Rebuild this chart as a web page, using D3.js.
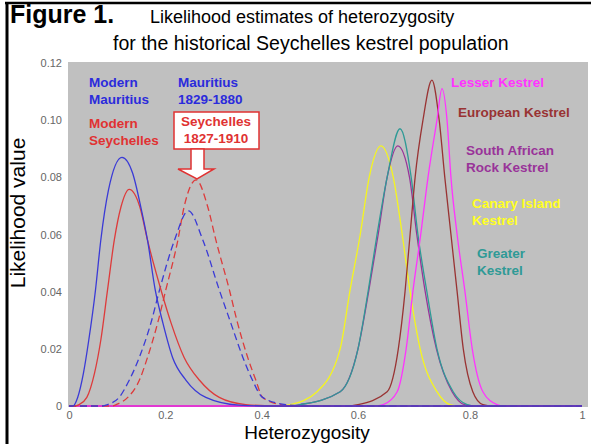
<!DOCTYPE html>
<html>
<head>
<meta charset="utf-8">
<script src="https://cdn.jsdelivr.net/npm/d3@7"></script>
<style>
  body { margin: 0; background: #fff; }
  svg { display: block; font-family: "Liberation Sans", Arial, sans-serif; }
</style>
</head>
<body>
<svg id="chart" width="591" height="444"></svg>
<script>
// tick values
var xTicks = [0, 0.2, 0.4, 0.6, 0.8, 1];
var yTicks = [0, 0.02, 0.04, 0.06, 0.08, 0.1, 0.12];

// curves: [heterozygosity, likelihood]
var modernMauritius = [[0,0],[0.008,0],[0.018,0.003],[0.03,0.0115],[0.041,0.023],[0.055,0.0406],[0.066,0.058],[0.082,0.0756],[0.11,0.087],[0.132,0.0815],[0.149,0.0697],[0.163,0.058],[0.179,0.0406],[0.195,0.029],[0.215,0.017],[0.243,0.009],[0.284,0.003],[0.353,0.0003],[0.42,0],[1,0]];
var modernSeychelles = [[0,0],[0.01,0],[0.021,0.0005],[0.037,0.003],[0.053,0.0115],[0.066,0.023],[0.08,0.0406],[0.094,0.058],[0.108,0.0697],[0.125,0.0758],[0.147,0.0697],[0.163,0.058],[0.191,0.0406],[0.212,0.029],[0.239,0.017],[0.271,0.009],[0.312,0.003],[0.367,0.0005],[0.43,0],[1,0]];
var mauritius1829 = [[0,0],[0.07,0],[0.08,0.0005],[0.104,0.003],[0.125,0.009],[0.146,0.017],[0.17,0.029],[0.188,0.0406],[0.219,0.058],[0.248,0.0683],[0.278,0.058],[0.312,0.0406],[0.336,0.029],[0.361,0.017],[0.381,0.009],[0.402,0.003],[0.45,0.0005],[0.5,0],[1,0]];
var seychelles1827 = [[0,0],[0.09,0],[0.098,0.0005],[0.122,0.003],[0.146,0.009],[0.163,0.017],[0.184,0.029],[0.201,0.0406],[0.226,0.058],[0.239,0.0697],[0.264,0.0791],[0.288,0.0697],[0.305,0.058],[0.333,0.0406],[0.35,0.029],[0.371,0.017],[0.388,0.009],[0.402,0.003],[0.44,0.0005],[0.48,0],[1,0]];
var canaryIsland = [[0,0],[0.44,0],[0.459,0.0005],[0.515,0.005],[0.563,0.02],[0.583,0.04],[0.604,0.06],[0.62,0.08],[0.641,0.091],[0.663,0.08],[0.679,0.06],[0.693,0.04],[0.711,0.02],[0.741,0.005],[0.764,0.0005],[0.78,0],[1,0]];
var southAfrican = [[0,0],[0.46,0],[0.48,0.0005],[0.563,0.005],[0.6,0.02],[0.619,0.04],[0.636,0.06],[0.652,0.08],[0.671,0.091],[0.692,0.08],[0.705,0.06],[0.72,0.04],[0.74,0.02],[0.768,0.005],[0.79,0.0005],[0.81,0],[1,0]];
var greaterKestrel = [[0,0],[0.46,0],[0.48,0.0005],[0.563,0.005],[0.6,0.02],[0.618,0.04],[0.634,0.06],[0.652,0.08],[0.675,0.097],[0.695,0.08],[0.707,0.06],[0.723,0.04],[0.741,0.02],[0.77,0.005],[0.795,0.0005],[0.81,0],[1,0]];
var europeanKestrel = [[0,0],[0.58,0],[0.6,0.0005],[0.652,0.005],[0.672,0.02],[0.684,0.04],[0.693,0.06],[0.702,0.08],[0.716,0.1],[0.732,0.114],[0.745,0.1],[0.755,0.08],[0.766,0.06],[0.777,0.04],[0.788,0.02],[0.805,0.005],[0.823,0.0005],[0.84,0],[1,0]];
var lesserKestrel = [[0,0],[0.63,0],[0.645,0.0005],[0.67,0.005],[0.686,0.02],[0.698,0.04],[0.712,0.06],[0.725,0.08],[0.741,0.1],[0.75,0.111],[0.759,0.1],[0.766,0.08],[0.777,0.06],[0.791,0.04],[0.804,0.02],[0.823,0.005],[0.848,0.0005],[0.86,0],[1,0]];

var series = [
  { values: canaryIsland, color: "#f5f51e", dash: null },
  { values: southAfrican, color: "#993399", dash: null },
  { values: greaterKestrel, color: "#2f9a96", dash: null },
  { values: europeanKestrel, color: "#993333", dash: null },
  { values: lesserKestrel, color: "#ff33ff", dash: null },
  { values: seychelles1827, color: "#dd3b3b", dash: "7,4" },
  { values: mauritius1829, color: "#3a3ad6", dash: "7,4" },
  { values: modernSeychelles, color: "#dd3b3b", dash: null },
  { values: modernMauritius, color: "#3a3ad6", dash: null }
];

var labels = [
  { lines: ["Modern", "Mauritius"], x: 89, y: 87, color: "#2b2bdc" },
  { lines: ["Modern", "Seychelles"], x: 89, y: 128, color: "#e03232" },
  { lines: ["Mauritius", "1829-1880"], x: 178, y: 87, color: "#2b2bdc" },
  { lines: ["Lesser Kestrel"], x: 451, y: 87, color: "#ff33ff" },
  { lines: ["European Kestrel"], x: 458, y: 117, color: "#993333" },
  { lines: ["South African", "Rock Kestrel"], x: 466, y: 155, color: "#993399" },
  { lines: ["Canary Island", "Kestrel"], x: 472, y: 208, color: "#ffff22" },
  { lines: ["Greater", "Kestrel"], x: 477, y: 258, color: "#2f9a96" }
];

var svg = d3.select("#chart");
var plot = { left: 68, right: 588, top: 62, bottom: 407 };

// the printed axis is not evenly spaced, so map through the label positions
var x = d3.scaleLinear().domain([0, 0.6, 1]).range([69, 358, 582]);
var y = d3.scaleLinear().domain([0, 0.12]).range([406, 63]);

// frame lines
svg.append("line").attr("x1", 5).attr("x2", 591).attr("y1", 3).attr("y2", 3)
  .attr("stroke", "#000").attr("stroke-width", 2.5);
svg.append("line").attr("x1", 7).attr("x2", 7).attr("y1", 2).attr("y2", 444)
  .attr("stroke", "#000").attr("stroke-width", 3);

// titles
svg.append("text").attr("x", 10).attr("y", 23)
  .attr("font-size", "25px").attr("font-weight", "bold").text("Figure 1.");
svg.append("text").attr("x", 150).attr("y", 23)
  .attr("font-size", "18px").text("Likelihood estimates of heterozygosity");
svg.append("text").attr("x", 113).attr("y", 50)
  .attr("font-size", "19.5px").text("for the historical Seychelles kestrel population");

// plot background
svg.append("rect")
  .attr("x", plot.left).attr("y", plot.top)
  .attr("width", plot.right - plot.left).attr("height", plot.bottom - plot.top)
  .attr("fill", "#c0c0c0");

svg.append("clipPath").attr("id", "clip").append("rect")
  .attr("x", plot.left).attr("y", plot.top)
  .attr("width", plot.right - plot.left).attr("height", plot.bottom - plot.top + 1);

// axes
var xAxis = svg.append("g")
  .attr("transform", "translate(0,408)")
  .call(d3.axisBottom(x).tickValues(xTicks).tickSize(0).tickPadding(3).tickFormat(d3.format("")));
var yAxis = svg.append("g")
  .attr("transform", "translate(66,0)")
  .call(d3.axisLeft(y).tickValues(yTicks).tickSize(0).tickPadding(4)
    .tickFormat(d => d === 0 ? "0" : d3.format(".2f")(d)));
[xAxis, yAxis].forEach(function (g) {
  g.select(".domain").remove();
  g.selectAll("text").attr("fill", "#666").attr("font-size", "11px")
    .attr("font-family", "Liberation Sans, Arial, sans-serif");
});

svg.append("text")
  .attr("x", 307).attr("y", 439)
  .attr("text-anchor", "middle").attr("font-size", "19px")
  .text("Heterozygosity");
svg.append("text")
  .attr("transform", "translate(25,213) rotate(-90)")
  .attr("text-anchor", "middle").attr("font-size", "21px")
  .text("Likelihood value");

// curves
var line = d3.line()
  .x(d => x(d[0]))
  .y(d => y(d[1]))
  .curve(d3.curveMonotoneX);

svg.append("g").attr("clip-path", "url(#clip)")
  .selectAll("path")
  .data(series)
  .enter()
  .append("path")
  .attr("d", d => line(d.values))
  .attr("fill", "none")
  .attr("stroke", d => d.color)
  .attr("stroke-width", 1.3)
  .attr("stroke-dasharray", d => d.dash);

// series labels
labels.forEach(function (l) {
  var t = svg.append("text")
    .attr("x", l.x).attr("y", l.y)
    .attr("fill", l.color)
    .attr("font-size", "13.5px").attr("font-weight", "bold");
  l.lines.forEach(function (s, i) {
    t.append("tspan").attr("x", l.x).attr("dy", i === 0 ? 0 : 17).text(s);
  });
});

// boxed label with arrow for the historical Seychelles curve
svg.append("rect")
  .attr("x", 174).attr("y", 112).attr("width", 85).attr("height", 37)
  .attr("fill", "#fff").attr("stroke", "#e03232").attr("stroke-width", 1.5);
svg.append("text")
  .attr("x", 216).attr("y", 126).attr("text-anchor", "middle")
  .attr("fill", "#e03232").attr("font-size", "13.5px").attr("font-weight", "bold")
  .selectAll("tspan")
  .data(["Seychelles", "1827-1910"])
  .enter().append("tspan")
  .attr("x", 216).attr("dy", (d, i) => i === 0 ? 0 : 17)
  .text(d => d);
svg.append("path")
  .attr("d", "M191,149 L204,149 L204,169 L214,169 L197,179 L178,169 L191,169 Z")
  .attr("fill", "#fff").attr("stroke", "#e03232").attr("stroke-width", 1.5);
</script>
</body>
</html>
